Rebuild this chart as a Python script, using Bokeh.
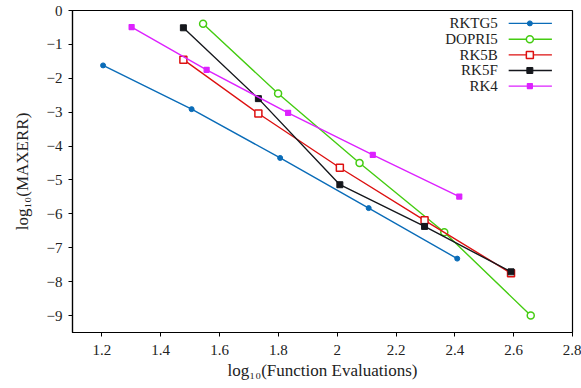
from bokeh.plotting import figure
from bokeh.models import Range1d, CustomJSTickFormatter, FixedTicker, Label
from bokeh.embed import file_html
from bokeh.resources import INLINE

# log10 of function evaluations and log10 of max error for each integrator
series_names = ["RKTG5", "DOPRI5", "RK5B", "RK5F", "RK4"]

rktg5_x = [1.204, 1.505, 1.806, 2.107, 2.408]
rktg5_y = [-1.62, -2.91, -4.35, -5.83, -7.32]

dopri5_x = [1.544, 1.799, 2.076, 2.364, 2.658]
dopri5_y = [-0.39, -2.45, -4.50, -6.54, -9.00]

rk5b_x = [1.477, 1.732, 2.009, 2.297, 2.591]
rk5b_y = [-1.45, -3.04, -4.64, -6.19, -7.75]

rk5f_x = [1.477, 1.732, 2.009, 2.297, 2.591]
rk5f_y = [-0.51, -2.60, -5.14, -6.37, -7.71]

rk4_x = [1.301, 1.556, 1.833, 2.121, 2.415]
rk4_y = [-0.49, -1.75, -3.02, -4.26, -5.49]

x_ticks = [1.2, 1.4, 1.6, 1.8, 2.0, 2.2, 2.4, 2.6, 2.8]
y_ticks = [0, -1, -2, -3, -4, -5, -6, -7, -8, -9]

FONT = "Liberation Serif"

p = figure(width=581, height=388, output_backend="svg", toolbar_location=None,
           x_range=Range1d(1.1, 2.8), y_range=Range1d(-9.5, 0),
           min_border_left=72, min_border_right=9, min_border_top=10,
           min_border_bottom=56)

p.background_fill_color = "white"
p.border_fill_color = "white"
p.outline_line_color = "black"
p.outline_line_width = 1.2
p.xgrid.visible = False
p.ygrid.visible = False

for ax in (p.xaxis, p.yaxis):
    ax.axis_line_color = "black"
    ax.axis_line_width = 1.2
    ax.major_tick_line_color = "black"
    ax.major_tick_in = 0
    ax.major_tick_out = 4
    ax.minor_tick_line_color = None
    ax.major_label_text_font = FONT
    ax.major_label_text_font_size = "15px"
    ax.major_label_text_color = "#222222"
    ax.axis_label_text_font = FONT
    ax.axis_label_text_font_size = "17px"
    ax.axis_label_text_font_style = "normal"
    ax.axis_label_text_color = "#222222"

p.xaxis.ticker = FixedTicker(ticks=x_ticks)
p.yaxis.ticker = FixedTicker(ticks=y_ticks)
p.xaxis.formatter = CustomJSTickFormatter(
    code="return String(Math.round(tick * 10) / 10);")
p.yaxis.formatter = CustomJSTickFormatter(
    code="return tick < 0 ? '\\u2212' + String(Math.abs(tick)) : String(tick);")
p.xaxis.axis_label = "log\u2081\u2080(Function Evaluations)"
p.yaxis.axis_label = "log\u2081\u2080(MAXERR)"
p.xaxis.major_label_standoff = 8
p.yaxis.major_label_standoff = 6
p.xaxis.axis_label_standoff = 3
p.yaxis.axis_label_standoff = 12

colors = ["#0a6cb8", "#44cc11", "#dd1111", "#15171c", "#dd22ff"]
xs = [rktg5_x, dopri5_x, rk5b_x, rk5f_x, rk4_x]
ys = [rktg5_y, dopri5_y, rk5b_y, rk5f_y, rk4_y]


def draw_markers(i, x, y):
    c = colors[i]
    if i == 0:
        p.scatter(x, y, marker="circle", size=5, color=c)
    elif i == 1:
        p.scatter(x, y, marker="circle", size=7, line_color=c,
                  fill_color="white", line_width=1.5)
    elif i == 2:
        p.scatter(x, y, marker="square", size=7, line_color=c,
                  fill_color="white", line_width=1.5)
    elif i == 3:
        p.scatter(x, y, marker="square", size=6, color=c)
    else:
        p.scatter(x, y, marker="square_x", size=5, line_color=c,
                  fill_color=c, line_width=1.2)


for i in range(len(series_names)):
    p.line(xs[i], ys[i], line_color=colors[i], line_width=1.4)
    draw_markers(i, xs[i], ys[i])

# legend block in the upper right: name, then a line sample with its marker
legend_text_x = 2.546
legend_line_x = [2.583, 2.730]
legend_mark_x = 2.655
legend_rows_y = [-0.38, -0.85, -1.31, -1.77, -2.23]

for i, name in enumerate(series_names):
    yy = legend_rows_y[i]
    p.line(legend_line_x, [yy, yy], line_color=colors[i], line_width=1.4)
    draw_markers(i, [legend_mark_x], [yy])
    p.add_layout(Label(x=legend_text_x, y=yy, text=name, text_align="right",
                       text_baseline="middle", text_font=FONT,
                       text_font_size="15px", text_color="#222222"))

open("out.html", "w").write(file_html(p, INLINE))
